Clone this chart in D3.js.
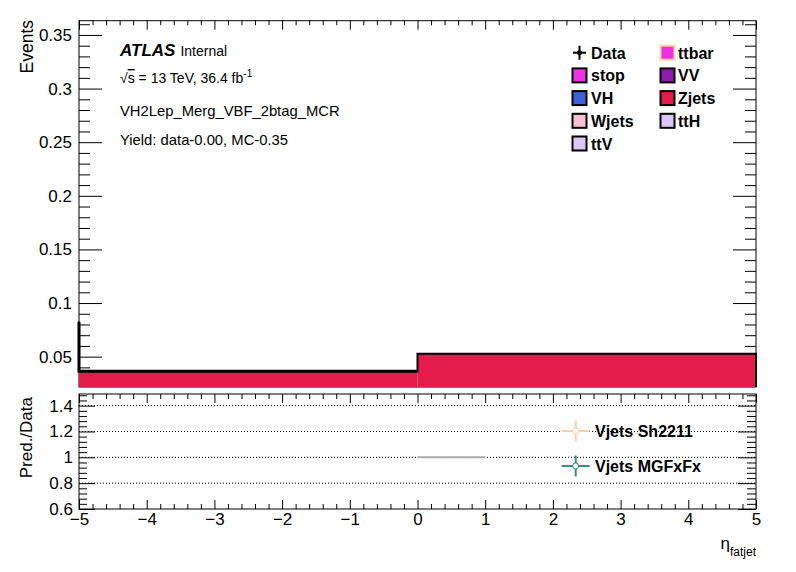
<!DOCTYPE html>
<html>
<head>
<meta charset="utf-8">
<script src="https://cdn.jsdelivr.net/npm/d3@7"></script>
<style>
  body { margin: 0; background: #fff; }
  svg { font-family: "Liberation Sans", Arial, Helvetica, sans-serif; }
  .ax path.domain { display: none; }
  .ax line { stroke: #000; stroke-width: 1; }
  .ax text { fill: #000; font-size: 17px; font-family: "Liberation Sans", Arial, sans-serif; }
</style>
</head>
<body>
<div id="chart"></div>
<script>
// ---- data ----
var binEdges = [-5, 0, 5];
var zjets = [0.0363, 0.0528];          // stacked MC (only Zjets visible)
var leftEdgeTop = 0.0826;              // outline coming down at x = -5
var ratioSegments = [{x0: 0, x1: 1, y: 1.0}];   // grey ratio line
var gridRatio = [0.8, 1.0, 1.2, 1.4];

var legendLabels = ["Data", "ttbar", "stop", "VV", "VH", "Zjets", "Wjets", "ttH", "ttV"];
var legendFills  = [null, "#ee2ee6", "#ee33e2", "#8c1cb0", "#4060d8", "#e31c4b", "#f8c0d2", "#dcc6f8", "#dcc6f8"];
var legendEdges  = [null, "#fdd5a8", "#000", "#000", "#000", "#000", "#000", "#000", "#000"];

var ratioLegend = ["Vjets Sh2211", "Vjets MGFxFx"];
var ratioColors = ["#fdd0a8", "#3a8f80"];

var infoLines = ["VH2Lep_Merg_VBF_2btag_MCR", "Yield: data-0.00, MC-0.35"];

// ---- layout ----
var W = 796, H = 572;
var L = 79, R = 756;
var topT = 20.7, topB = 387;
var ratT = 394, ratB = 509;

var svg = d3.select('#chart').append('svg')
    .attr('width', W)
    .attr('height', H);

var x = d3.scaleLinear().domain([-5, 5]).range([L, R]);
var y = d3.scaleLinear().domain([0.0217, 0.3633]).range([topB, topT]);
var yr = d3.scaleLinear().domain([0.6, 1.49]).range([ratB, ratT]);

var xMajor = d3.range(-5, 5.001, 1);
var xMinor = d3.range(-5, 5.001, 0.2).filter(function(v){ return Math.abs(v - Math.round(v)) > 1e-6; });
var yMajor = d3.range(0.05, 0.36, 0.05).map(function(v){ return +v.toFixed(2); });
var yMinor = d3.range(0.03, 0.361, 0.01).map(function(v){ return +v.toFixed(2); })
    .filter(function(v){ return Math.abs(v*20 - Math.round(v*20)) > 1e-6; });
var rMajor = [0.6, 0.8, 1.0, 1.2, 1.4];
var rMinor = d3.range(0.64, 1.49, 0.04).map(function(v){ return +v.toFixed(2); })
    .filter(function(v){ return Math.abs(v*5 - Math.round(v*5)) > 1e-6; });

function axisG(cls, tx, ty) {
    return svg.append('g').attr('class', 'ax ' + cls).attr('transform', 'translate(' + tx + ',' + ty + ')');
}

// ---- upper pad ----
svg.append('rect')
    .attr('x', L).attr('y', topT)
    .attr('width', R - L).attr('height', topB - topT)
    .attr('fill', 'none').attr('stroke', '#000').attr('stroke-width', 1);

axisG('y-major', L, 0).call(d3.axisLeft(y).tickValues(yMajor).tickSize(-23).tickPadding(7).tickFormat(d3.format('')));
axisG('y-minor', L, 0).call(d3.axisLeft(y).tickValues(yMinor).tickSize(-11).tickFormat(''));
axisG('y-major-r', R, 0).call(d3.axisRight(y).tickValues(yMajor).tickSize(-23).tickFormat(''));
axisG('y-minor-r', R, 0).call(d3.axisRight(y).tickValues(yMinor).tickSize(-11).tickFormat(''));
axisG('x-top-major', 0, topT).call(d3.axisTop(x).tickValues(xMajor).tickSize(-9).tickFormat(''));
axisG('x-top-minor', 0, topT).call(d3.axisTop(x).tickValues(xMinor).tickSize(-4.5).tickFormat(''));

// stacked histogram
var bins = zjets.map(function(v, i){ return {x0: binEdges[i], x1: binEdges[i+1], v: v}; });
svg.append('g').selectAll('rect')
    .data(bins)
    .enter().append('rect')
    .attr('x', function(d){ return x(d.x0); })
    .attr('y', function(d){ return y(d.v); })
    .attr('width', function(d){ return x(d.x1) - x(d.x0); })
    .attr('height', function(d){ return topB - y(d.v); })
    .attr('fill', legendFills[5]);

// outline
var pts = [[x(binEdges[0]), y(leftEdgeTop)]];
bins.forEach(function(d){
    pts.push([x(d.x0), y(d.v)]);
    pts.push([x(d.x1), y(d.v)]);
});
pts.push([x(binEdges[binEdges.length-1]), topB]);
svg.append('path')
    .attr('d', d3.line()(pts))
    .attr('fill', 'none').attr('stroke', '#000').attr('stroke-width', 2);
svg.append('path')
    .attr('d', d3.line()([[x(binEdges[0]), y(leftEdgeTop)], [x(binEdges[0]), y(bins[0].v)], [x(bins[0].x1), y(bins[0].v)]]))
    .attr('fill', 'none').attr('stroke', '#000').attr('stroke-width', 3);

// axis title
svg.append('text')
    .attr('transform', 'translate(33,20) rotate(-90)')
    .attr('text-anchor', 'end')
    .attr('font-size', 17.5)
    .text('Events');

// ATLAS label
var atl = svg.append('text').attr('x', 120).attr('y', 56);
atl.append('tspan').attr('font-weight', 'bold').attr('font-style', 'italic').attr('font-size', 17).text('ATLAS');
atl.append('tspan').attr('dx', 5).attr('font-size', 14).text('Internal');

var lumi = svg.append('text').attr('x', 120).attr('y', 83).attr('font-size', 14);
lumi.append('tspan').text('\u221A');
lumi.append('tspan').attr('text-decoration', 'overline').text('s');
lumi.append('tspan').text(' = 13 TeV, 36.4 fb');
lumi.append('tspan').attr('dy', -6).attr('font-size', 10).text('-1');

svg.selectAll('.info')
    .data(infoLines)
    .enter().append('text')
    .attr('class', 'info')
    .attr('x', 120)
    .attr('y', function(d, i){ return 116 + i*29; })
    .attr('font-size', 14.8)
    .text(function(d){ return d; });

// legend
var leg = svg.append('g').attr('class', 'legend');
legendLabels.forEach(function(lab, i){
    var col = i % 2, row = Math.floor(i / 2);
    var bx = col === 0 ? 572 : 660;
    var cy = 52.7 + row * 22.7;
    var g = leg.append('g');
    if (legendFills[i] === null) {
        g.append('line').attr('x1', bx + 1).attr('x2', bx + 14).attr('y1', cy).attr('y2', cy)
            .attr('stroke', '#000').attr('stroke-width', 2);
        g.append('line').attr('x1', bx + 7.5).attr('x2', bx + 7.5).attr('y1', cy - 7).attr('y2', cy + 7)
            .attr('stroke', '#000').attr('stroke-width', 2);
        g.append('circle').attr('cx', bx + 7.5).attr('cy', cy).attr('r', 2.5).attr('fill', '#000');
    } else {
        g.append('rect').attr('x', bx + 0.5).attr('y', cy - 7).attr('width', 14).attr('height', 14)
            .attr('fill', legendFills[i]).attr('stroke', legendEdges[i]).attr('stroke-width', 2);
    }
    g.append('text').attr('x', bx + (col === 0 ? 19 : 18)).attr('y', cy + 6)
        .attr('font-weight', 'bold').attr('font-size', 16).text(lab);
});

// ---- ratio pad ----
svg.selectAll('.grid')
    .data(gridRatio)
    .enter().append('line')
    .attr('class', 'grid')
    .attr('x1', L).attr('x2', R)
    .attr('y1', function(d){ return yr(d); })
    .attr('y2', function(d){ return yr(d); })
    .attr('stroke', '#000').attr('stroke-width', 1).attr('stroke-dasharray', '1,2');

svg.append('rect')
    .attr('x', L).attr('y', ratT)
    .attr('width', R - L).attr('height', ratB - ratT)
    .attr('fill', 'none').attr('stroke', '#000').attr('stroke-width', 1);

axisG('r-major', L, 0).call(d3.axisLeft(yr).tickValues(rMajor).tickSize(-16).tickPadding(6).tickFormat(d3.format('')));
axisG('r-minor', L, 0).call(d3.axisLeft(yr).tickValues(rMinor).tickSize(-8).tickFormat(''));
axisG('r-major-r', R, 0).call(d3.axisRight(yr).tickValues(rMajor).tickSize(-18).tickFormat(''));
axisG('r-minor-r', R, 0).call(d3.axisRight(yr).tickValues(rMinor).tickSize(-9).tickFormat(''));
axisG('rx-major', 0, ratB).call(d3.axisBottom(x).tickValues(xMajor).tickSize(-9).tickPadding(4).tickFormat(d3.format('')));
axisG('rx-minor', 0, ratB).call(d3.axisBottom(x).tickValues(xMinor).tickSize(-5).tickFormat(''));
axisG('rx-top-major', 0, ratT).call(d3.axisTop(x).tickValues(xMajor).tickSize(-9).tickFormat(''));
axisG('rx-top-minor', 0, ratT).call(d3.axisTop(x).tickValues(xMinor).tickSize(-5).tickFormat(''));

svg.selectAll('.rseg')
    .data(ratioSegments)
    .enter().append('line')
    .attr('class', 'rseg')
    .attr('x1', function(d){ return x(d.x0); })
    .attr('x2', function(d){ return x(d.x1); })
    .attr('y1', function(d){ return yr(d.y); })
    .attr('y2', function(d){ return yr(d.y); })
    .attr('stroke', '#aaaaaa').attr('stroke-width', 2);

svg.append('text')
    .attr('transform', 'translate(32,397) rotate(-90)')
    .attr('text-anchor', 'end')
    .attr('font-size', 17)
    .text('Pred./Data');

// ratio legend
ratioLegend.forEach(function(lab, i){
    var cx = 575.7, cy = 431 + i * 35;
    var g = svg.append('g');
    g.append('line').attr('x1', cx - 14).attr('x2', cx + 14).attr('y1', cy).attr('y2', cy)
        .attr('stroke', ratioColors[i]).attr('stroke-width', 2);
    g.append('line').attr('x1', cx).attr('x2', cx).attr('y1', cy - 10.5).attr('y2', cy + 10.5)
        .attr('stroke', ratioColors[i]).attr('stroke-width', 2);
    g.append('circle').attr('cx', cx).attr('cy', cy).attr('r', 3)
        .attr('fill', '#fff').attr('stroke', ratioColors[i]).attr('stroke-width', 1);
    g.append('text').attr('x', 595).attr('y', cy + 6)
        .attr('font-weight', 'bold').attr('font-size', 16).text(lab);
});

// x title
var xt = svg.append('text').attr('x', R).attr('y', 549).attr('text-anchor', 'end').attr('font-size', 17);
xt.append('tspan').text('\u03B7');
xt.append('tspan').attr('dy', 7).attr('font-size', 12).text('fatjet');
</script>
</body>
</html>
